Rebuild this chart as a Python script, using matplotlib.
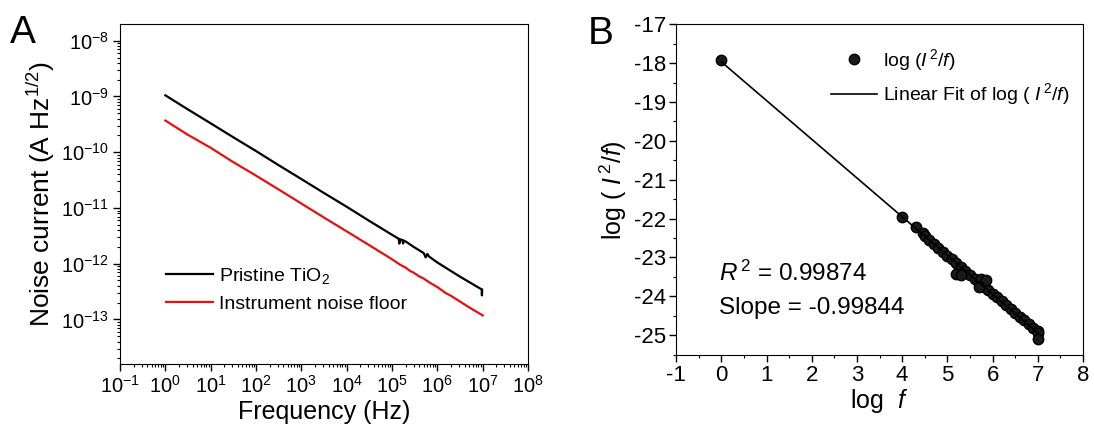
import numpy as np
import matplotlib.pyplot as plt
from matplotlib.ticker import LogLocator, MultipleLocator, NullFormatter

plt.rcParams['font.family'] = ['Liberation Sans', 'DejaVu Sans']
plt.rcParams['mathtext.fontset'] = 'custom'
plt.rcParams['mathtext.rm'] = 'Liberation Sans'
plt.rcParams['mathtext.it'] = 'Liberation Sans:italic'
plt.rcParams['mathtext.bf'] = 'Liberation Sans:bold'
plt.rcParams['axes.unicode_minus'] = False

# panel A: noise current spectra
freq = [1, 3, 10, 30, 100, 300, 1e3, 3e3, 1e4, 3e4, 1e5, 1.4e5, 1.45e5, 1.5e5, 1.7e5, 1.75e5,
        1.8e5, 2e5, 3e5, 5e5, 5.5e5, 6e5, 6.5e5, 1e6, 3e6, 9.5e6, 9.6e6, 9.7e6]
tio2 = [1.05e-9, 6.0e-10, 3.3e-10, 1.9e-10, 1.05e-10, 6.0e-11, 3.3e-11, 1.9e-11, 1.05e-11, 6.0e-12,
        3.3e-12, 2.8e-12, 2.3e-12, 2.75e-12, 2.65e-12, 2.3e-12, 2.6e-12, 2.5e-12, 2.0e-12,
        1.55e-12, 1.3e-12, 1.5e-12, 1.35e-12, 1.05e-12, 6.0e-13, 3.45e-13, 2.7e-13, 3.4e-13]
freq_floor = [1, 3, 10, 30, 100, 300, 1e3, 3e3, 1e4, 3e4, 1e5, 1.5e5, 2e5, 2.5e5, 3e5, 4e5,
              5e5, 7e5, 1e6, 1.5e6, 2e6, 3e6, 5e6, 7e6, 1e7]
floor = [3.7e-10, 2.1e-10, 1.2e-10, 6.8e-11, 3.8e-11, 2.2e-11, 1.2e-11, 6.9e-12, 3.8e-12,
         2.2e-12, 1.2e-12, 9.6e-13, 8.5e-13, 7.4e-13, 6.9e-13, 5.9e-13, 5.4e-13, 4.5e-13,
         3.8e-13, 3.0e-13, 2.65e-13, 2.15e-13, 1.65e-13, 1.4e-13, 1.18e-13]

# panel B: log(I^2/f) vs log f
logf = [0.0, 4.0, 4.3, 4.45, 4.5, 4.6, 4.7, 4.8, 4.9, 5.0, 5.1, 5.2, 5.3, 5.4, 5.5, 5.6, 5.7,
        5.8, 5.9, 6.0, 6.1, 6.2, 6.3, 6.4, 6.5, 6.6, 6.7, 6.8, 6.9, 7.0, 7.0, 7.0,
        5.2, 5.3, 5.75, 5.85, 5.7]
logI2f = [-17.93, -21.95, -22.22, -22.38, -22.45, -22.55, -22.65, -22.75, -22.85, -22.95,
          -23.05, -23.15, -23.25, -23.35, -23.44, -23.55, -23.65, -23.75, -23.84, -23.93,
          -24.03, -24.13, -24.22, -24.32, -24.42, -24.52, -24.61, -24.71, -24.81, -24.9,
          -24.95, -25.1, -23.42, -23.45, -23.55, -23.58, -23.75]

fig = plt.figure(figsize=(10.94, 4.37), dpi=100)

# ---- A ----
ax = fig.add_axes([0.1097, 0.167, 0.373, 0.778])
ax.plot(freq, tio2, color='black', lw=1.6, label='Pristine TiO$_2$')
ax.plot(freq_floor, floor, color='#e8100f', lw=1.6, label='Instrument noise floor')
ax.set_xscale('log')
ax.set_yscale('log')
ax.set_xlim(0.1, 1e8)
ax.set_ylim(10 ** -13.8, 10 ** -7.7)
ax.xaxis.set_major_locator(LogLocator(base=10, numticks=20))
ax.yaxis.set_major_locator(LogLocator(base=10, numticks=20))
ax.xaxis.set_minor_locator(LogLocator(base=10, subs=np.arange(2, 10), numticks=20))
ax.yaxis.set_minor_locator(LogLocator(base=10, subs=np.arange(2, 10), numticks=20))
ax.xaxis.set_minor_formatter(NullFormatter())
ax.yaxis.set_minor_formatter(NullFormatter())
ax.tick_params(which='both', direction='out', top=False, right=False, labelsize=14.5)
ax.tick_params(which='major', length=5, width=1, pad=3)
ax.tick_params(which='minor', length=2.5, width=0.8)
ax.set_xlabel('Frequency (Hz)', fontsize=18, labelpad=2)
ax.set_ylabel('Noise current (A Hz$^{1/2}$)', fontsize=19, labelpad=3)
ax.legend(loc='lower left', bbox_to_anchor=(0.07, 0.1), frameon=False, fontsize=14,
          handlelength=2.4, handletextpad=0.3, labelspacing=0.45)
fig.text(0.009, 0.902, 'A', fontsize=28)

# ---- B ----
bx = fig.add_axes([0.618, 0.1876, 0.372, 0.757])
slope, icpt = np.polyfit(logf, logI2f, 1)
fit_x = np.array([min(logf), max(logf)])
bx.plot(logf, logI2f, 'o', color='black', mfc='#1a1a1a', mec='black', ms=7.5, mew=1.0,
        label=r'log ($\mathit{I}^{\,2}/\mathit{f}$)', zorder=3)
bx.plot(fit_x, icpt + slope * fit_x, color='black', lw=1.2,
        label=r'Linear Fit of log ( $\mathit{I}^{\,2}/\mathit{f}$)', zorder=4)
bx.set_xlim(-1, 8)
bx.set_ylim(-25.51, -17)
bx.xaxis.set_major_locator(MultipleLocator(1))
bx.xaxis.set_minor_locator(MultipleLocator(0.5))
bx.yaxis.set_major_locator(MultipleLocator(1))
bx.yaxis.set_minor_locator(MultipleLocator(0.5))
bx.tick_params(which='both', direction='out', top=False, right=False, labelsize=16)
bx.tick_params(which='major', length=5, width=1, pad=2)
bx.tick_params(which='minor', length=2.5, width=0.8)
bx.set_xlabel(r'log  $\mathit{f}$', fontsize=18, labelpad=1)
bx.set_ylabel(r'log ( $\mathit{I}^{\,2}/\mathit{f}$)', fontsize=18, labelpad=4)
bx.legend(loc='upper right', bbox_to_anchor=(1.01, 0.985), frameon=False, fontsize=14,
          handlelength=2.4, handletextpad=0.3, labelspacing=0.45)
bx.text(0.105, 0.225, r'$\mathit{R}^{\,2}$ = 0.99874', transform=bx.transAxes, fontsize=17.5)
bx.text(0.105, 0.125, 'Slope = -0.99844', transform=bx.transAxes, fontsize=17.5)
fig.text(0.537, 0.9, 'B', fontsize=28)

fig.savefig('out.png', dpi=100)
